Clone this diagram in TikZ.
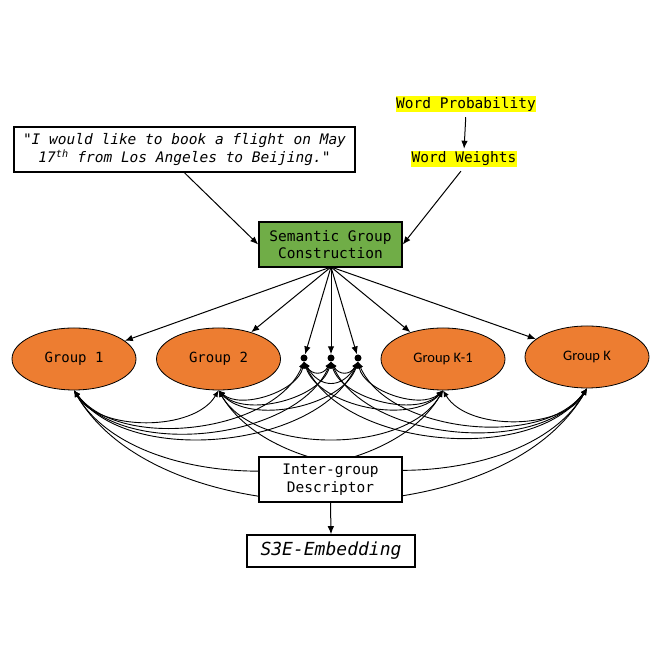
\documentclass[tikz,border=0pt]{standalone}
\usepackage{fontspec}
\setmonofont{DejaVu Sans Mono}
\newfontfamily\carlito{Carlito}
\usetikzlibrary{arrows.meta,shapes.geometric}
\definecolor{sgreen}{HTML}{70AD47}
\definecolor{gorange}{HTML}{ED7D31}
\definecolor{hyellow}{HTML}{FFFF00}
\begin{document}
\begin{tikzpicture}[x=1pt,y=1pt,
  tip/.style={-{Latex[length=8pt,width=6.5pt]}, line width=1pt},
  dtip/.style={{Latex[length=6.5pt,width=5.5pt]}-{Latex[length=6.5pt,width=5.5pt]}, line width=0.9pt},
  mono/.style={font=\ttfamily\fontsize{14.5}{17.5}\selectfont},
  box/.style={draw, line width=1.6pt, align=center, mono},
  hl/.style={fill=hyellow, inner xsep=0.5pt, inner ysep=1pt, mono},
  grp/.style={ellipse, draw, line width=0.8pt, fill=gorange, minimum width=124pt, minimum height=62pt, inner sep=0pt},
  dotn/.style={circle, fill=black, inner sep=0pt, minimum size=7pt}]
\useasboundingbox (0,0) rectangle (659,660);
% top texts
\node[box, minimum width=341pt, minimum height=45pt, font=\ttfamily\itshape\fontsize{14.5}{17.5}\selectfont] (quote) at (184.5,510.5)
  {"I would like to book a flight on May\\17\textsuperscript{th} from Los Angeles to Beijing."};
\node[hl] (wp) at (466,556) {Word Probability};
\node[hl] (ww) at (464,501) {Word Weights};
\node[box, fill=sgreen, minimum width=143pt, minimum height=45pt] (sgc) at (330.5,415.5) {Semantic Group\\Construction};
\draw[tip, shorten <=5pt, shorten >=2pt] (wp.south) -- (ww.north);
\draw[tip] (quote.south) -- (sgc.west);
\draw[tip, shorten <=5pt] (ww.south) -- (sgc.east);
% groups
\node[grp, font=\ttfamily\fontsize{14}{16}\selectfont] (g1) at (74,301) {Group 1};
\node[grp, font=\ttfamily\fontsize{14}{16}\selectfont] (g2) at (218.5,301) {Group 2};
\node[grp, font=\carlito\fontsize{14.5}{16}\selectfont] (gk1) at (443,301) {Group K-1};
\node[grp, font=\carlito\fontsize{14.5}{16}\selectfont] (gk) at (587,303) {Group K};
\node[dotn] (d1) at (304,302) {};
\node[dotn] (d2) at (331,302) {};
\node[dotn] (d3) at (358,302) {};
\coordinate (sgcs) at (331,393);
\foreach \t in {g1,g2,d1,d2,d3,gk1,gk}
  \draw[tip] (sgcs) -- (\t);
% inter-group connections
\foreach \a/\b in {g1/g2,g1/d1,g1/d2,g1/d3,g1/gk1,g1/gk,
                   g2/d1,g2/d2,g2/d3,g2/gk1,g2/gk,
                   d1/gk1,d1/gk,d2/gk1,d2/gk,d3/gk1,d3/gk,gk1/gk}
  \draw[dtip] (\a.south) to[bend right=60, looseness=0.85] (\b.south);
\foreach \a/\b in {d1/d2,d2/d3,d1/d3}
  \draw[dtip] (\a.south) to[bend right=60, looseness=1.5] (\b.south);
% bottom
\node[box, fill=white, minimum width=143pt, minimum height=45pt] (desc) at (330.5,180.5) {Inter-group\\Descriptor};
\node[box, minimum width=168pt, minimum height=32pt, font=\ttfamily\itshape\fontsize{18}{20}\selectfont] (s3e) at (331,109) {S3E-Embedding};
\draw[tip] (desc.south) -- (s3e.north);
\end{tikzpicture}
\end{document}
